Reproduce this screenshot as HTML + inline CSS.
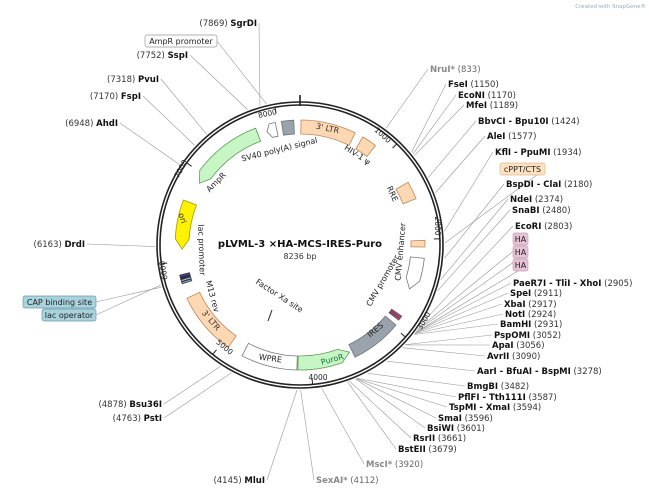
<!DOCTYPE html>
<html><head><meta charset="utf-8"><style>
html,body{margin:0;padding:0;background:#fff;width:649px;height:492px;overflow:hidden}
svg{display:block;font-family:"DejaVu Sans","Liberation Sans",sans-serif}
</style></head><body>
<svg id="s" width="649" height="492" viewBox="0 0 649 492" xmlns="http://www.w3.org/2000/svg">
<text x="646" y="8" font-size="5.5" fill="#9ab" text-anchor="end">Created with SnapGene®</text>
<g id="lines" stroke="#999" stroke-width="0.6" fill="none"></g>
<circle cx="300" cy="245" r="143" fill="none" stroke="#222" stroke-width="1.6"/>
<circle cx="300" cy="245" r="140" fill="none" stroke="#222" stroke-width="1.6"/>
<line x1="300" y1="95" x2="300" y2="106" stroke="#222" stroke-width="1.6"/>
<g id="feat"></g>
<g id="txt"></g>
<g font-size="8" fill="#222">
<text transform="translate(280,152) rotate(-14)" text-anchor="middle">SV40 poly(A) signal</text>
<text transform="translate(356,157) rotate(33)" text-anchor="middle">HIV-1 ψ</text>
<text transform="translate(218,184) rotate(-45)" text-anchor="middle">AmpR</text>
<text transform="translate(390,195) rotate(65)" text-anchor="middle">RRE</text>
<text transform="translate(403,252) rotate(-85)" text-anchor="middle">CMV enhancer</text>
<text transform="translate(385,282) rotate(-60)" text-anchor="middle">CMV promoter</text>
<text transform="translate(377,332) rotate(-40)" text-anchor="middle">IRES</text>
<text transform="translate(333,362) rotate(-15)" text-anchor="middle" fill="#174">PuroR</text>
<text transform="translate(270,361) rotate(8)" text-anchor="middle">WPRE</text>
<text transform="translate(209,322) rotate(50)" text-anchor="middle" fill="#333">3' LTR</text>
<text transform="translate(327,131) rotate(12)" text-anchor="middle" fill="#333">3' LTR</text>
<text transform="translate(199,250) rotate(88)" text-anchor="middle">lac promoter</text>
<text transform="translate(210,297) rotate(75)" text-anchor="middle">M13 rev</text>
<text transform="translate(180,219) rotate(72)" text-anchor="middle">ori</text>
<text transform="translate(278,298) rotate(33)" text-anchor="middle">Factor Xa site</text>
</g>
<line x1="268" y1="321" x2="272" y2="310" stroke="#222" stroke-width="1"/>
<g font-size="7.5" fill="#222">
<text transform="translate(381,137) rotate(42)" text-anchor="middle">1000</text>
<text transform="translate(435,226) rotate(90)" text-anchor="middle">2000</text>
<text transform="translate(426,322) rotate(-60)" text-anchor="middle">3000</text>
<text x="318" y="380" text-anchor="middle">4000</text>
<text transform="translate(223,349) rotate(40)" text-anchor="middle">5000</text>
<text transform="translate(166,270) rotate(-100)" text-anchor="middle">6000</text>
<text transform="translate(183,170) rotate(-62)" text-anchor="middle">7000</text>
<text transform="translate(268,116) rotate(-12)" text-anchor="middle">8000</text>
</g>
<text x="300" y="247" font-size="10" font-weight="bold" text-anchor="middle" fill="#111">pLVML-3 ×HA-MCS-IRES-Puro</text>
<text x="300" y="259" font-size="8" text-anchor="middle" fill="#333">8236 bp</text>
</svg>
<script>
var N=8236,cx=300,cy=245,NS="http://www.w3.org/2000/svg";
function ang(bp){return bp/N*360;}
function p(a,r){var t=a*Math.PI/180;return [cx+r*Math.sin(t),cy-r*Math.cos(t)];}
function P(a,r){var q=p(a,r);return q[0].toFixed(1)+","+q[1].toFixed(1);}
function el(par,tag,at,txt){var e=document.createElementNS(NS,tag);for(var k in at)e.setAttribute(k,at[k]);if(txt!==undefined)e.textContent=txt;document.getElementById(par).appendChild(e);return e;}
function band(s,e,fill,stroke,dir,r1,r2){
 r1=r1||111;r2=r2||125;var a=ang(s),b=ang(e),rm=(r1+r2)/2,h=Math.min(5,(b-a)*0.4),L=(b-a)>180?1:0,d;
 if(dir==1){d="M"+P(a,r2)+"A"+r2+","+r2+" 0 "+L+" 1 "+P(b-h,r2)+"L"+P(b,rm)+"L"+P(b-h,r1)+"A"+r1+","+r1+" 0 "+L+" 0 "+P(a,r1)+"Z";}
 else if(dir==-1){d="M"+P(a,rm)+"L"+P(a+h,r2)+"A"+r2+","+r2+" 0 "+L+" 1 "+P(b,r2)+"L"+P(b,r1)+"A"+r1+","+r1+" 0 "+L+" 0 "+P(a+h,r1)+"Z";}
 else {d="M"+P(a,r2)+"A"+r2+","+r2+" 0 "+L+" 1 "+P(b,r2)+"L"+P(b,r1)+"A"+r1+","+r1+" 0 "+L+" 0 "+P(a,r1)+"Z";}
 el("feat","path",{d:d,fill:fill,stroke:stroke,"stroke-width":0.8});
}
var OR="#fdd8b3",ORS="#b98a5c";
band(10,600,OR,ORS,0);
band(690,850,OR,ORS,0);
band(1370,1560,OR,ORS,0);
band(2010,2080,OR,ORS,0);
band(2200,2560,"#fff","#777",1);
band(2970,3520,"#9aa3ab","#6b747c",0);
band(3550,4140,"#c8f5c4","#5b9a5b",-1);
band(4150,4750,"#fff","#777",0);
band(4920,5600,OR,ORS,0);
band(6130,6660,"#fff200","#a09a00",-1);
band(6900,7760,"#c8f5c4","#5b9a5b",-1);
band(7865,7975,"#fff","#777",-1);
band(8040,8170,"#9aa3ab","#6b747c",0);
[2860,2880,2900].forEach(function(b){band(b,b+12,"#c9a","#735",0,112,124);});
[5760,5785,5810,5835].forEach(function(b,i){band(b,b+20,["#8ab","#9cc","#325","#54a"][i],"#334",0,114,124);});
for(var k=1;k<=8;k++){el("lines","line",{x1:p(ang(k*1000),140)[0],y1:p(ang(k*1000),140)[1],x2:p(ang(k*1000),134)[0],y2:p(ang(k*1000),134)[1],stroke:"#222","stroke-width":1});}
var E=[
["NruI*",833,430,72,1,1],["FseI",1150,448,87,1,0],["EcoNI",1170,458,98,1,0],["MfeI",1189,466,108,1,0],
["BbvCI - Bpu10I",1424,478,124,1,0],["AleI",1577,487,139,1,0],["KflI - PpuMI",1934,495,155,1,0],
["BspDI - ClaI",2180,506,187,1,0],["NdeI",2374,510,202,1,0],["SnaBI",2480,512,213,1,0],["EcoRI",2803,515,229,1,0],
["PaeR7I - TliI - XhoI",2905,513,286,1,0],["SpeI",2911,510,296,1,0],["XbaI",2917,504,307,1,0],["NotI",2924,505,317,1,0],
["BamHI",2931,500,327,1,0],["PspOMI",3052,494,338,1,0],["ApaI",3056,492,348,1,0],["AvrII",3090,487,359,1,0],
["AarI - BfuAI - BspMI",3278,477,374,1,0],["BmgBI",3482,467,389,1,0],["PflFI - Tth111I",3587,458,400,1,0],
["TspMI - XmaI",3594,449,410,1,0],["SmaI",3596,438,421,1,0],["BsiWI",3601,427,431,1,0],["RsrII",3661,413,441,1,0],
["BstEII",3679,398,452,1,0],["MscI*",3920,366,467,1,1],["SexAI*",4112,316,483,1,1],
["MluI",4145,265,483,-1,0],["PstI",4763,162,421,-1,0],["Bsu36I",4878,162,407,-1,0],
["DrdI",6163,85,247,-1,0],["AhdI",6948,118,126,-1,0],["FspI",7170,141,99,-1,0],["PvuI",7318,159,82,-1,0],
["SspI",7752,188,58,-1,0],["SgrDI",7869,257,26,-1,0]];
E.forEach(function(e){
 var q=p(ang(e[1]),145),col=e[5]?"#888":"#111";
 var lx=e[4]==1?e[2]-2:e[2]+2;
 el("lines","line",{x1:lx,y1:e[3]-3,x2:q[0],y2:q[1]});
 var t=el("txt","text",{x:e[2],y:e[3],"font-size":8.5,"text-anchor":e[4]==1?"start":"end",fill:col});
 var b=document.createElementNS(NS,"tspan");b.setAttribute("font-weight","bold");b.textContent=e[0];
 var n=document.createElementNS(NS,"tspan");n.setAttribute("font-weight","normal");n.setAttribute("fill",e[5]?"#666":"#333");
 if(e[4]==1){n.textContent="  ("+e[1]+")";t.appendChild(b);t.appendChild(n);}
 else{n.textContent="("+e[1]+")  ";t.appendChild(n);t.appendChild(b);}
});
function box(txt,x,y,w,fill,stroke,bp){
 el("lines","line",{x1:x+w,y1:y+6,x2:p(ang(bp),145)[0],y2:p(ang(bp),145)[1]});
 el("txt","rect",{x:x,y:y,width:w,height:12,rx:2,fill:fill,stroke:stroke,"stroke-width":0.7});
 el("txt","text",{x:x+w/2,y:y+9,"font-size":8,"text-anchor":"middle",fill:"#222"},txt);
}
box("AmpR promoter",145,35,72,"#fff","#999",7930);
box("cPPT/CTS",500,163,45,"#fde1c0","#e0b890",2040);
box("HA",513,233,15,"#e6c2d6","#c9a0b8",2866);
box("HA",513,246,15,"#e6c2d6","#c9a0b8",2886);
box("HA",513,259,15,"#e6c2d6","#c9a0b8",2906);
box("CAP binding site",23,296,73,"#a9d3dc","#6a9aa8",5790);
box("lac operator",42,309,54,"#a9d3dc","#6a9aa8",5810);
</script>
</body></html>
